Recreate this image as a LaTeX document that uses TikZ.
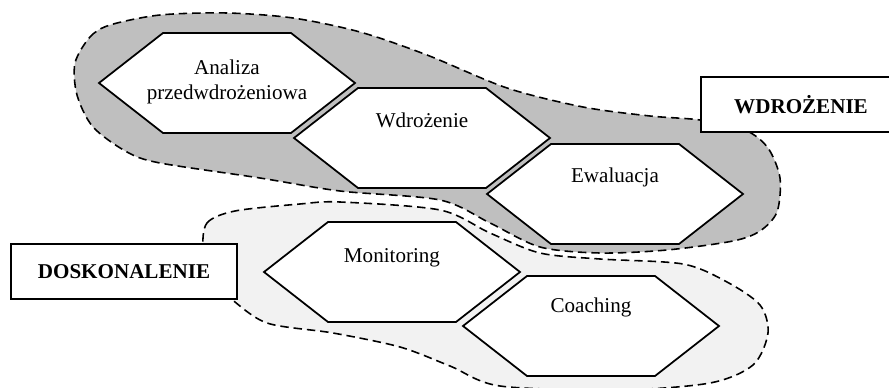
\documentclass[tikz,border=0pt]{standalone}
\usepackage{fontspec}
\setmainfont{Liberation Serif}
\begin{document}
\begin{tikzpicture}[x=0.02cm,y=-0.02cm,
        blob/.style={dash pattern=on 4.8pt off 2.8pt,line width=.9pt},
        hexa/.pic={\draw[line width=1pt,fill=white] (-128,0)--(-64,-50)--(64,-50)--(128,0)--(64,50)--(-64,50)--cycle;},
        txt/.style={font=\fontsize{12}{14}\selectfont,align=center,inner sep=0pt},
        tagbox/.style={draw,line width=.9pt,fill=white,font=\fontsize{12}{14}\selectfont\bfseries,minimum height=1.1cm}]
        \useasboundingbox (0,0) rectangle (889,388);
        % doskonalenie
        \draw[blob,fill=black!5] plot[smooth cycle] coordinates {(203,250) (207,223) (235,211) (300,204) (340,202) (440,210) (490,233) (540,253) (600,259) (683,264) (727,282) (760,305) (768,333) (753,365) (710,383) (620,390) (500,386) (450,366) (400,347) (333,333) (267,323) (230,298) (210,280)};
        % wdrozenie
        \draw[blob,fill=black!25] plot[smooth cycle] coordinates {(75,63) (90,37) (110,25) (160,15) (227,13) (293,18) (360,32) (427,55) (507,88) (583,107) (650,116) (700,120) (745,130) (768,148) (780,178) (777,212) (760,231) (733,241) (667,250) (600,253) (540,247) (490,223) (440,200) (340,191) (260,178) (160,163) (127,152) (93,127) (77,95)};
        \pic at (227,83) {hexa};
        \pic at (422,138) {hexa};
        \pic at (615,194) {hexa};
        \pic at (392,272) {hexa};
        \pic at (591,326) {hexa};
        \node[txt] (analiza) at (227,82) {Analiza\\przedwdrożeniowa};
        \node[txt,anchor=base] (wdr) at (422,128) {Wdrożenie};
        \node[txt,anchor=base] (ewal) at (615,183) {Ewaluacja};
        \node[txt,anchor=base] (monit) at (392,262) {Monitoring};
        \node[txt,anchor=base] (coach) at (591,313) {Coaching};
        \node[tagbox,minimum width=4cm] (wdrtag) at (801,104.5) {WDROŻENIE};
        \node[tagbox,minimum width=4.52cm] (dostag) at (124,271.5) {DOSKONALENIE};
        \end{tikzpicture}
\end{document}
